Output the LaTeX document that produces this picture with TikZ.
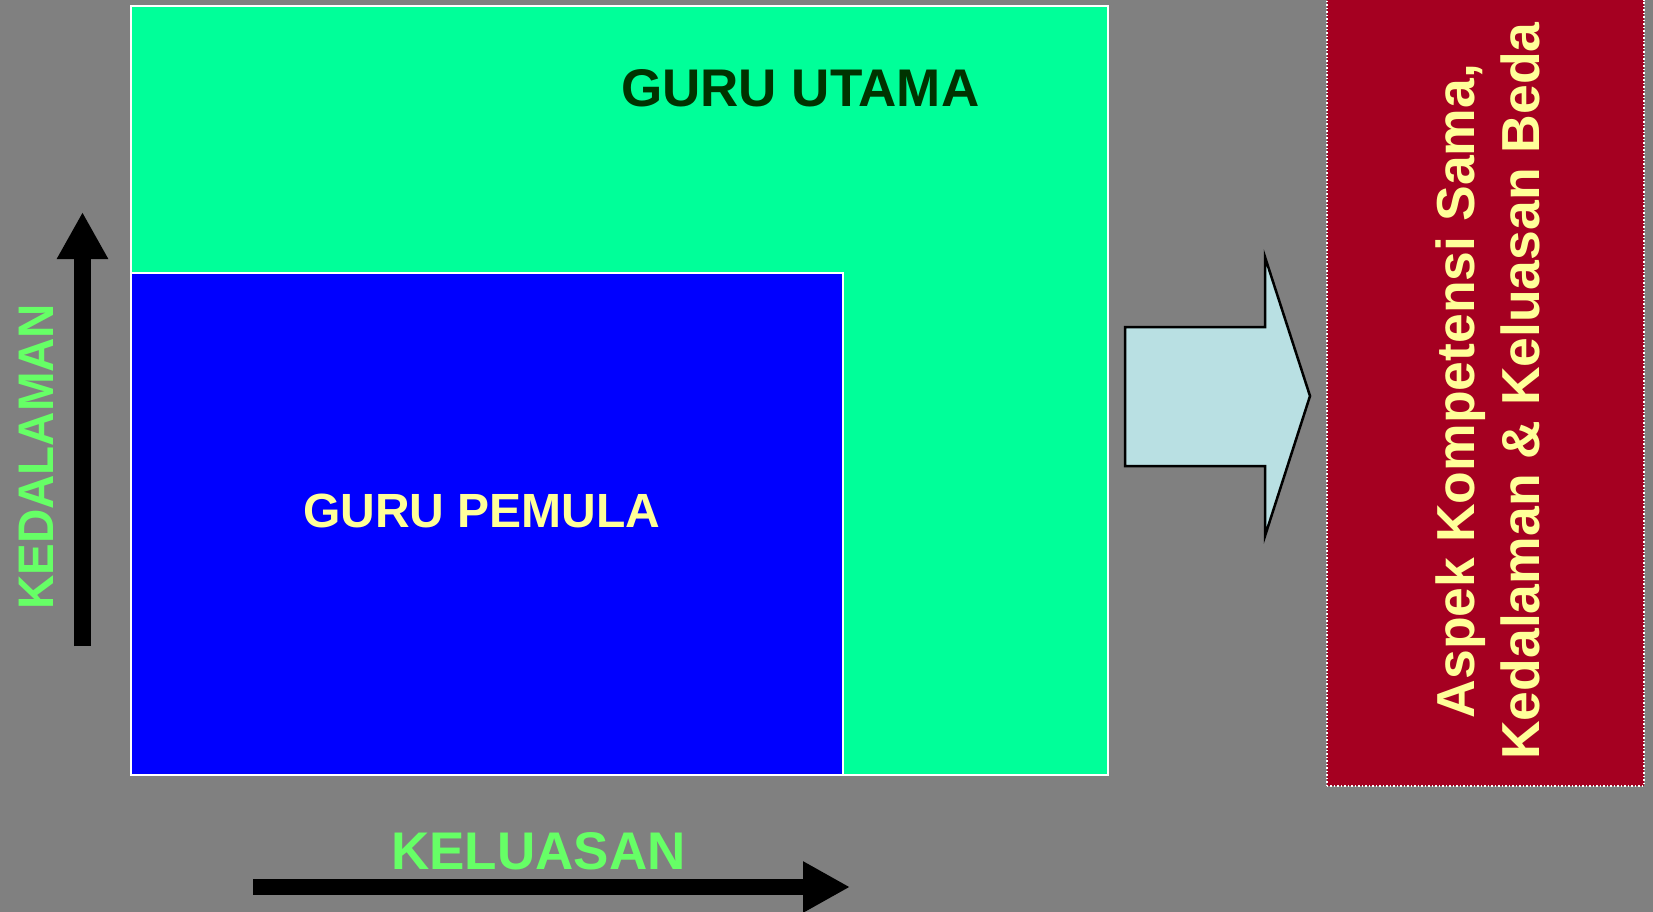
\documentclass[tikz,border=0pt]{standalone}
\usepackage{fontspec}
\setmainfont{Liberation Sans}
\usetikzlibrary{arrows.meta}
\definecolor{bggray}{HTML}{808080}
\definecolor{utamagreen}{HTML}{00FF99}
\definecolor{pemulablue}{HTML}{0000FF}
\definecolor{darkgreen}{HTML}{003300}
\definecolor{paleyellow}{HTML}{FFFF99}
\definecolor{labelgreen}{HTML}{66FF66}
\definecolor{arrowfill}{HTML}{B9E0E3}
\definecolor{boxred}{HTML}{A50021}
\tikzset{
  area/.style={draw=white, line width=2pt, inner sep=0pt, anchor=north west},
  axisarrow/.style={line width=17pt, -{Triangle[length=47pt,width=48pt]}},
  bigtext/.style={inner sep=0pt, font=\bfseries\fontsize{53}{60}\selectfont},
}
\begin{document}
\begin{tikzpicture}[x=1pt,y=-1pt]
\useasboundingbox (0,0) rectangle (1653,912);
\fill[bggray] (0,0) rectangle (1653,912);
% areas
\node[area, fill=utamagreen, minimum width=977pt, minimum height=769pt] (utama) at (130,5) {};
\node[area, fill=pemulablue, minimum width=712pt, minimum height=502pt] (pemula) at (130,272) {};
\node[bigtext, text=darkgreen, anchor=base west] (tutama) at (621,107) {GURU UTAMA};
\node[bigtext, text=paleyellow, anchor=base west, font=\bfseries\fontsize{48}{55}\selectfont] (tpemula) at (303,527) {GURU PEMULA};
% axes
\coordinate (ystart) at (82.5,646);
\coordinate (yend) at (82.5,212);
\draw[axisarrow] (ystart) -- (yend);
\coordinate (xstart) at (253,887);
\coordinate (xend) at (850,887);
\draw[axisarrow, line width=16pt] (xstart) -- (xend);
\node[bigtext, text=labelgreen, rotate=90, anchor=base west, font=\bfseries\fontsize{50}{55}\selectfont] (kedalaman) at (53,610) {\scalebox{0.95}[1]{KEDALAMAN}};
\node[bigtext, text=labelgreen, anchor=base west, font=\bfseries\fontsize{53}{55}\selectfont] (keluasan) at (391,869) {KELUASAN};
% block arrow
\draw[fill=arrowfill, draw=black, line width=2.5pt, line join=miter]
  (1125,327) -- (1265,327) -- (1265,257) -- (1310,396) -- (1265,536) -- (1265,466) -- (1125,466) -- cycle;
% red box
\node[draw=white, dotted, line width=1.5pt, fill=boxred, inner sep=0pt, anchor=north west,
      minimum width=317pt, minimum height=786pt] (redbox) at (1326,-1) {};
\node[inner sep=0pt, rotate=90, align=center, text=paleyellow,
      font=\bfseries\fontsize{53.5}{65}\selectfont] (aspek) at (1488,391)
  {Aspek Kompetensi Sama,\\Kedalaman \& Keluasan Beda};
\end{tikzpicture}
\end{document}
